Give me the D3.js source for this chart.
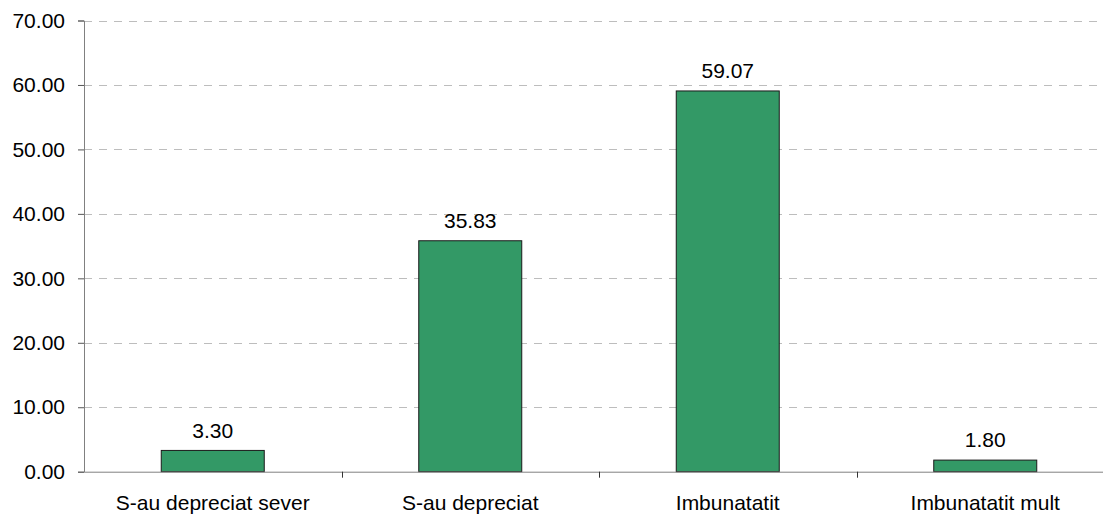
<!DOCTYPE html>
<html>
<head>
<meta charset="utf-8">
<script src="https://cdn.jsdelivr.net/npm/d3@7"></script>
<style>
html,body{margin:0;padding:0;background:#fff;overflow:hidden;}
svg{display:block;font-family:"Liberation Sans",Arial,sans-serif;}
</style>
</head>
<body>
<svg id="chart" width="1103" height="517"></svg>
<script>
const categories = ["S-au depreciat sever", "S-au depreciat", "Imbunatatit", "Imbunatatit mult"];
const values = [3.30, 35.83, 59.07, 1.80];
const yTicks = [0, 10, 20, 30, 40, 50, 60, 70];

const svg = d3.select("#chart");
const x0 = 84, x1 = 1114, yTop = 20.5, yBot = 471.7;
const FS = 21;

const x = d3.scaleBand().domain(categories).range([x0, x1]).paddingInner(0.6).paddingOuter(0.3);
const xb = d3.scaleBand().domain(categories).range([x0, x1]);
const y = d3.scaleLinear().domain([0, 70]).range([yBot, yTop]);

// gridlines
svg.append("g").selectAll("line").data(yTicks.filter(d => d > 0)).join("line")
  .attr("x1", x0).attr("x2", x1)
  .attr("y1", d => Math.round(y(d)) + 0.5).attr("y2", d => Math.round(y(d)) + 0.5)
  .attr("stroke", "#bdbdbd").attr("stroke-width", 1).attr("stroke-dasharray", "8,7");

// bars
svg.append("g").selectAll("rect").data(values).join("rect")
  .attr("x", (d, i) => x(categories[i]))
  .attr("width", x.bandwidth())
  .attr("y", d => y(d))
  .attr("height", d => yBot - y(d))
  .attr("fill", "#339966").attr("stroke", "#1a1a1a").attr("stroke-width", 1);

// value labels
svg.append("g").selectAll("text").data(values).join("text")
  .attr("x", (d, i) => x(categories[i]) + x.bandwidth() / 2)
  .attr("y", d => y(d) - 12.7)
  .attr("text-anchor", "middle")
  .attr("font-size", FS).attr("fill", "#000")
  .text(d => d.toFixed(2));

// y axis
const yAxis = d3.axisLeft(y).tickValues(yTicks).tickFormat(d => d.toFixed(2)).tickSize(6).tickPadding(13);
const gy = svg.append("g").attr("transform", `translate(${x0},0)`).call(yAxis);
gy.select(".domain").attr("stroke", "#808080");
gy.selectAll(".tick line").attr("stroke", "#555");
gy.selectAll(".tick text").attr("font-size", FS).attr("fill", "#000").attr("font-family", "Liberation Sans, Arial, sans-serif");

// x axis
const xAxis = d3.axisBottom(xb).tickSize(0).tickPadding(23.4);
const gx = svg.append("g").attr("transform", `translate(0,${yBot})`).call(xAxis);
gx.select(".domain").attr("stroke", "#808080");
gx.selectAll(".tick text").attr("font-size", FS).attr("fill", "#000").attr("font-family", "Liberation Sans, Arial, sans-serif");
// category separator ticks
svg.append("g").selectAll("line").data(categories.slice(1)).join("line")
  .attr("x1", d => Math.round(xb(d)) + 0.5).attr("x2", d => Math.round(xb(d)) + 0.5)
  .attr("y1", yBot).attr("y2", yBot + 6)
  .attr("stroke", "#333");
</script>
</body>
</html>
